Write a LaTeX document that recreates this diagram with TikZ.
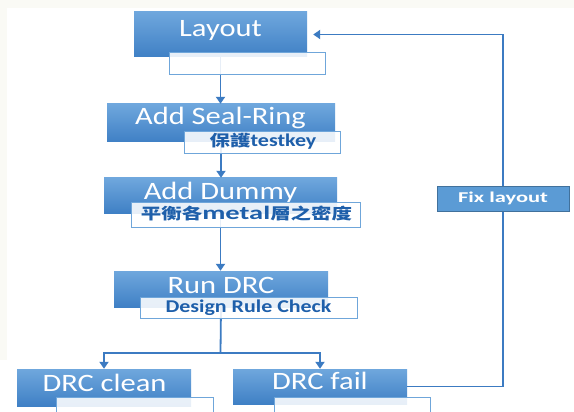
\documentclass[tikz,border=0pt]{standalone}
\usepackage{fontspec}
\setmainfont{Carlito}
\newfontfamily\boxfont[FakeStretch=1.22]{Carlito}
\newfontfamily\notefont[FakeStretch=1.22]{Carlito}
\newfontfamily\widenotefont[FakeStretch=1.5]{Carlito}
\newfontfamily\cjkfont[FakeStretch=1.32]{Noto Sans CJK TC}
\usetikzlibrary{arrows.meta}

\definecolor{boxtop}{HTML}{6FA7DD}
\definecolor{boxbot}{HTML}{3F80C5}
\definecolor{subedge}{HTML}{6FA6DA}
\definecolor{notecol}{HTML}{1E5FAA}
\definecolor{linecol}{HTML}{3C7BC2}
\definecolor{fixfill}{HTML}{5B9BD5}
\definecolor{fixedge}{HTML}{41719C}
\definecolor{bgtint}{HTML}{FAFAF5}

\newcommand{\cjkbold}[1]{{\cjkfont\bfseries\fontsize{15.5}{18}\selectfont #1}}

\tikzset{
  mainbox/.style={rectangle, inner sep=0pt, top color=boxtop, bottom color=boxbot, draw=none},
  subbox/.style={rectangle, inner sep=0pt, fill=white, fill opacity=0.88, draw=subedge, draw opacity=1, line width=0.9pt},
  maintext/.style={inner sep=0pt, text=white, font=\boxfont\fontsize{25}{28}\selectfont},
  notetext/.style={inner sep=0pt, text=notecol, font=\notefont\bfseries\fontsize{18}{20}\selectfont},
  conn/.style={draw=linecol, line width=1.8pt},
  arr/.style={conn, -{Triangle[width=9pt,length=7pt]}},
  fixbox/.style={rectangle, inner sep=0pt, fill=fixfill, draw=fixedge, line width=0.8pt,
    text=white, font=\widenotefont\bfseries\fontsize{15}{17}\selectfont},
}

\begin{document}
\begin{tikzpicture}[x=1pt,y=-1pt]
  \useasboundingbox (0,0) rectangle (574,412);
  \clip (0,0) rectangle (574,412);
  % page background
  \fill[white] (0,0) rectangle (574,412);
  \fill[bgtint] (0,0) rectangle (574,8);
  \fill[bgtint] (0,8) rectangle (7,360);

  % step boxes
  \node[mainbox, minimum width=173pt, minimum height=45pt] (layout) at (220.5,34.5) {};
  \node[mainbox, minimum width=228pt, minimum height=38pt] (seal) at (221,123) {};
  \node[mainbox, minimum width=233pt, minimum height=35pt] (dummy) at (220.5,195.5) {};
  \node[mainbox, minimum width=214pt, minimum height=36pt] (run) at (221,289) {};
  \node[mainbox, minimum width=174pt, minimum height=37pt] (clean) at (104,387.5) {};
  \node[mainbox, minimum width=174pt, minimum height=35pt] (fail) at (320,386.5) {};

  % connectors
  \coordinate (fork) at (220.5,353);
  \coordinate (loopTop) at (503,34.5);
  \draw[arr] (layout.south) -- (layout.south |- seal.north);
  \draw[arr] (seal.south) -- (seal.south |- dummy.north);
  \draw[arr] (dummy.south) -- (dummy.south |- run.north);
  \draw[conn] (run.south) -- (fork);
  \draw[arr] (fork) -| (clean.north);
  \draw[arr] (fork) -| (fail.north);
  \draw[arr, shorten >=6pt] (fail.east) -| (loopTop) -- (layout.east);

  % step titles
  \node[maintext] (layoutT) at (220.5,30) {Layout};
  \node[maintext] (sealT) at (220.5,118) {Add Seal-Ring};
  \node[maintext] (dummyT) at (220.5,192.5) {Add Dummy};
  \node[maintext] (runT) at (221,285) {Run DRC};
  \node[maintext] (cleanT) at (104.5,382.5) {DRC clean};
  \node[maintext] (failT) at (320,381) {DRC fail};

  % note boxes under each step
  \node[subbox, minimum width=156pt, minimum height=22pt] (layoutN) at (247,63) {};
  \node[subbox, minimum width=156pt, minimum height=22pt] (sealN) at (262,142) {};
  \node[subbox, minimum width=229pt, minimum height=25pt] (dummyN) at (245.5,214.5) {};
  \node[subbox, minimum width=217pt, minimum height=21pt] (runN) at (248.5,307.5) {};
  \node[subbox, minimum width=157pt, minimum height=30pt] (cleanN) at (134.5,412) {};
  \node[subbox, minimum width=156pt, minimum height=30pt] (failN) at (352,412) {};

  \node[notetext] (sealNT) at (263,141) {\cjkbold{保護}testkey};
  \node[notetext] (dummyNT) at (246.5,214)
    {\cjkbold{平衡各}{\widenotefont\bfseries\fontsize{19}{20}\selectfont metal}\cjkbold{層之密度}};
  \node[notetext] (runNT) at (248.5,307.5) {Design Rule Check};

  % feedback label on the loop
  \node[fixbox, minimum width=132pt, minimum height=25pt] (fix) at (503,198.5) {Fix layout};
\end{tikzpicture}
\end{document}
